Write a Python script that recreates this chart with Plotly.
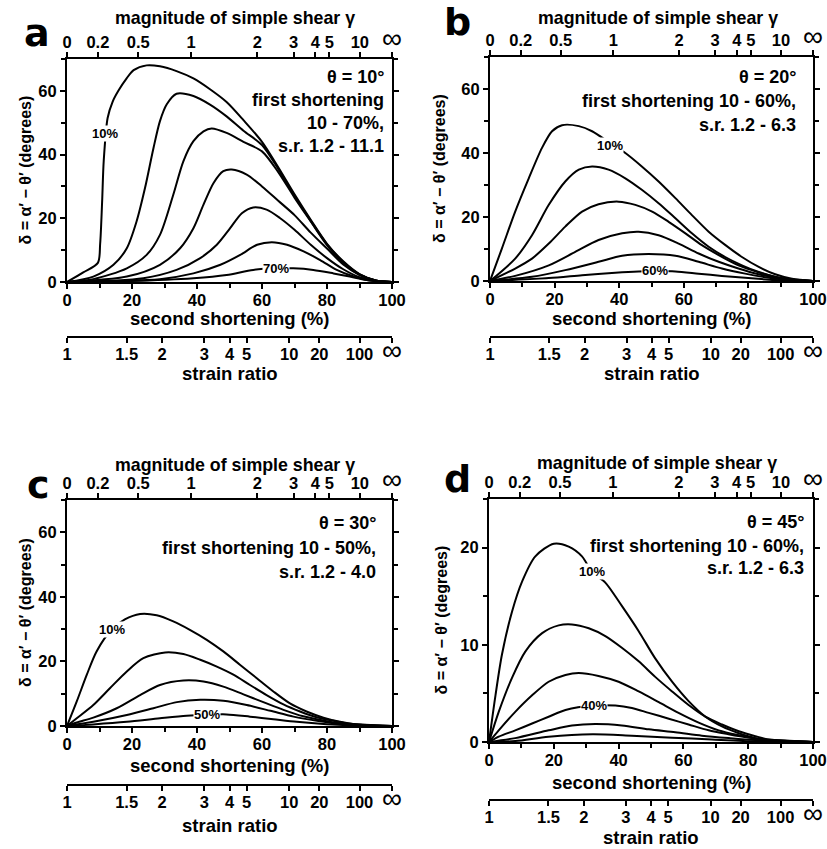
import math
import plotly.graph_objects as go

W, H = 827, 849
FONT = "Liberation Sans, Arial, Helvetica, sans-serif"
INF = math.inf

# ---------------- tick values / labels ----------------
shortening_ticks = [0, 20, 40, 60, 80, 100]
delta_ticks_abc = [0, 20, 40, 60]
delta_ticks_d = [0, 10, 20]
gamma_values = [0, 0.2, 0.5, 1, 2, 3, 4, 5, 10, INF]
gamma_labels = ["0", "0.2", "0.5", "1", "2", "3", "4", "5", "10", "∞"]
ratio_values = [1, 1.5, 2, 3, 4, 5, 10, 20, 100, INF]
ratio_labels = ["1", "1.5", "2", "3", "4", "5", "10", "20", "100", "∞"]

# ---------------- panel a : theta = 10 deg ----------------
a10_s = [0, 5, 9.5, 10.2, 10.8, 11.3, 12.5, 14, 15.8, 18.4, 20.5, 24.5, 28.6, 33.7, 38.9, 44, 49.1, 54.3, 60, 65, 70, 75, 80, 85, 90, 95, 100]
a10_d = [0, 3, 6, 12, 25, 38, 51.5, 56.5, 60, 64, 66.5, 68, 67.7, 66.2, 63.9, 60.5, 56.5, 50.8, 44, 36, 27.5, 19.5, 12, 6.5, 2.5, 0.5, 0]
a20_s = [0, 8.1, 14.3, 18.4, 21.4, 24, 26.6, 28.6, 30.7, 33.7, 38.9, 44, 49.1, 54.3, 60, 65, 70, 75, 80, 85, 90, 95, 100]
a20_d = [0, 1.7, 5.4, 10.6, 19, 29.5, 42, 50.5, 55.8, 59.1, 58.4, 55.7, 52, 47.5, 43, 35.5, 27, 19.2, 11.8, 6.3, 2.4, 0.5, 0]
a30_s = [0, 8.1, 18.4, 24.5, 28.6, 32.7, 35.8, 38.9, 42, 44.5, 49.1, 54.3, 60, 65, 70, 75, 80, 85, 90, 95, 100]
a30_d = [0, 0.9, 4.3, 8.5, 14.8, 27.4, 37.9, 44.2, 47.3, 48.2, 46.8, 44, 41, 34.5, 26.5, 19, 11.6, 6.1, 2.3, 0.5, 0]
a40_s = [0, 18.4, 28.6, 34.8, 38.9, 42, 45.1, 48.1, 50.7, 55.3, 60, 65, 70, 75, 80, 85, 90, 95, 100]
a40_d = [0, 1.7, 5.4, 10.6, 16.9, 24.3, 31.1, 34.8, 35.3, 33.7, 30, 25.5, 21, 15.5, 10.5, 5.5, 2.2, 0.4, 0]
a50_s = [0, 23.5, 33.7, 41, 46.1, 50.2, 53.8, 57.3, 61.4, 65.5, 70, 75, 80, 85, 90, 95, 100]
a50_d = [0, 1.2, 3.8, 7.5, 11.7, 16.9, 21.6, 23.4, 22.7, 20.1, 16.4, 11.7, 7.5, 4, 1.5, 0.3, 0]
a60_s = [0, 28.6, 38.9, 47.2, 53.3, 58.5, 63, 67.7, 72.8, 77.9, 83, 88, 93, 100]
a60_d = [0, 0.9, 2.7, 5.4, 8.5, 11.7, 12.5, 11.7, 9.6, 6.9, 3.8, 1.8, 0.5, 0]
a70_s = [0, 18.4, 38.9, 49.1, 57.3, 64.3, 69.6, 75.8, 82, 87, 92.2, 100]
a70_d = [0, 0.3, 1.2, 2.2, 3.8, 4.3, 4.3, 3.8, 2.7, 1.7, 0.6, 0]

# ---------------- panel b : theta = 20 deg ----------------
b10_s = [0, 3.7, 7.8, 12, 16.1, 19.2, 22.3, 27.5, 31.6, 37.3, 41.9, 47, 52.2, 57.4, 62.5, 67.7, 72.9, 78, 83.2, 88.3, 93.5, 100]
b10_d = [0, 10.2, 21.7, 32.1, 41.6, 46.8, 48.7, 48.4, 46.8, 43, 40, 35.8, 31.1, 25.9, 20.6, 15.4, 11.2, 7.5, 4.4, 2.1, 0.7, 0]
b20_s = [0, 7.8, 13, 18.2, 23.3, 27.5, 31.6, 36.7, 41.9, 47, 52.2, 57.4, 62.5, 67.7, 72.8, 78, 83.2, 88.3, 93.5, 100]
b20_d = [0, 7, 14.3, 23.8, 31.1, 34.8, 35.8, 34.8, 32.1, 28.5, 24.3, 19.6, 14.9, 10.7, 7.5, 4.9, 2.8, 1.3, 0.4, 0]
b30_s = [0, 7.8, 13, 18.2, 23.3, 28.5, 33.6, 39.8, 45, 50.2, 55.3, 60.5, 65.6, 70.8, 75.9, 81.1, 86.3, 91.4, 100]
b30_d = [0, 3.9, 7, 11.7, 17, 21.7, 24, 24.8, 23.8, 21.7, 18.5, 14.9, 11.2, 8.1, 5.4, 3.4, 1.8, 0.7, 0]
b40_s = [0, 7.8, 18.2, 26.4, 33.6, 40.9, 46, 52.2, 58.4, 64.6, 70.8, 76.9, 83.2, 89.4, 100]
b40_d = [0, 1.6, 4.9, 9.1, 12.8, 14.9, 15.4, 14.3, 11.7, 8.6, 6, 3.9, 2.1, 0.9, 0]
b50_s = [0, 13, 23.3, 33.6, 40.9, 49.1, 57.4, 64.6, 71.8, 79, 86.3, 92.5, 100]
b50_d = [0, 1.3, 3.4, 6, 7.9, 8.4, 7.9, 6, 3.9, 2.3, 1, 0.3, 0]
b60_s = [0, 18.2, 28.5, 38.8, 46, 51.2, 57.4, 64.6, 71.8, 80, 88.3, 100]
b60_d = [0, 0.9, 1.8, 2.6, 3, 3.1, 3, 2.3, 1.6, 0.9, 0.3, 0]

# ---------------- panel c : theta = 30 deg ----------------
c10_s = [0, 3, 6.1, 9.1, 13.7, 17.8, 22.5, 27.6, 32.7, 37.8, 43, 48.1, 53.2, 58.4, 63.5, 68.6, 73.7, 78.9, 84, 89.1, 95.3, 100]
c10_d = [0, 7.6, 15.9, 23.1, 29.8, 33, 34.7, 34.3, 32.4, 29.8, 26.7, 23.1, 19, 14.8, 10.7, 7, 4.5, 2.6, 1.3, 0.5, 0.1, 0]
c20_s = [0, 3, 8.1, 13.2, 18.4, 23.5, 30.2, 35.8, 41, 46.1, 51.2, 56.3, 61.4, 66.6, 71.7, 76.8, 82, 87.1, 100]
c20_d = [0, 2.4, 6.5, 11.7, 16.9, 21, 22.8, 22.3, 20.5, 18.4, 15.9, 12.7, 9.6, 6.7, 4.5, 2.7, 1.6, 0.7, 0]
c30_s = [0, 3, 8.1, 15.3, 22.5, 28.6, 35.8, 42, 48.1, 54.3, 60.4, 66.6, 72.7, 78.9, 85, 100]
c30_d = [0, 1.1, 2.6, 5.5, 9.6, 12.7, 14.1, 13.8, 12.2, 9.8, 7.4, 5, 3, 1.7, 0.7, 0]
c40_s = [0, 8.1, 18.4, 26.6, 33.8, 41, 48.1, 55.3, 62.6, 69.7, 76.9, 84.1, 100]
c40_d = [0, 1.3, 3.4, 5.5, 7.4, 8.1, 7.8, 6.5, 4.7, 2.9, 1.6, 0.6, 0]
c50_s = [0, 8.1, 18.4, 28.6, 36.8, 43, 49.1, 56.3, 63.5, 70.7, 78, 85, 100]
c50_d = [0, 0.5, 1.3, 2.4, 3.2, 3.5, 3.6, 2.9, 2.1, 1.3, 0.7, 0.3, 0]

# ---------------- panel d : theta = 45 deg ----------------
d10_s = [0, 2, 4, 7.1, 10.2, 14.3, 20, 24.6, 28.7, 31.8, 35.9, 41, 46.2, 51.3, 56.5, 61.6, 66.8, 71.9, 77.1, 82.2, 88.4, 100]
d10_d = [0, 4.8, 9, 13.4, 16.5, 19.1, 20.4, 20.1, 19.1, 17.5, 16.4, 14, 11.4, 8.6, 6.2, 4.2, 2.6, 1.6, 0.9, 0.4, 0.2, 0]
d20_s = [0, 3, 7.1, 11.2, 16.4, 21.5, 25.6, 30.8, 35.9, 41, 46.2, 51.3, 56.5, 61.6, 66.8, 71.9, 77.1, 82.2, 87.3, 100]
d20_d = [0, 3.1, 6.6, 9.3, 11.2, 12, 12.1, 11.7, 10.9, 9.7, 8.3, 6.7, 5.2, 3.8, 2.6, 1.8, 1.1, 0.6, 0.2, 0]
d30_s = [0, 3, 8.1, 13.3, 18.4, 23.6, 27.7, 33.8, 40, 46.2, 52.4, 58.5, 64.7, 70.9, 77.1, 83.2, 100]
d30_d = [0, 1.2, 3.1, 4.8, 6.2, 6.9, 7.1, 6.8, 6.2, 5.2, 4.1, 3, 2, 1.2, 0.7, 0.3, 0]
d40_s = [0, 3, 8.1, 13.3, 18.4, 23.6, 32.3, 39, 44.1, 49.3, 55.5, 61.6, 67.8, 73.9, 80.1, 86.3, 100]
d40_d = [0, 0.55, 1.2, 1.9, 2.6, 3.3, 3.75, 3.75, 3.5, 3, 2.4, 1.8, 1.2, 0.8, 0.45, 0.2, 0]
d50_s = [0, 8.1, 18.4, 25.6, 32.8, 41, 49.3, 57.5, 65.7, 74, 82.2, 100]
d50_d = [0, 0.4, 1.2, 1.7, 1.85, 1.7, 1.3, 1, 0.65, 0.4, 0.2, 0]
d60_s = [0, 8.1, 18.4, 32, 44.1, 56.5, 68.8, 81.2, 100]
d60_d = [0, 0.1, 0.55, 0.8, 0.65, 0.45, 0.25, 0.07, 0]


def shortening_from_gamma(g):
    if g == INF:
        return 100.0
    lam = (g + math.sqrt(g * g + 4)) / 2
    return 100 * (1 - 1 / lam)


def shortening_from_ratio(r):
    if r == INF:
        return 100.0
    return 100 * (1 - 1 / math.sqrt(r))


def tick_text(lbl):
    if lbl == "∞":
        return '<span style="font-size:28px;font-weight:normal">∞</span>'
    return lbl


panels = [
    dict(letter="a", box=(67, 392, 59, 282), yrange=70, yticks=delta_ticks_abc, ydt=10,
         curves=[(a10_s, a10_d), (a20_s, a20_d), (a30_s, a30_d), (a40_s, a40_d), (a50_s, a50_d), (a60_s, a60_d), (a70_s, a70_d)],
         labels=[("10%", 11.8, 46.5), ("70%", 64.3, 4.3)],
         info=["θ = 10°", "first shortening", "10 - 70%,", "s.r. 1.2 - 11.1"], info_y=[77, 100, 123, 146], info_x=386,
         top_title_y=18, bot_title_y=318, ratio_line_y=337, ratio_title_y=373, ytitle_x=25,
         letter_xy=(37, 33)),
    dict(letter="b", box=(490, 813, 57, 281), yrange=70, yticks=delta_ticks_abc, ydt=10,
         curves=[(b10_s, b10_d), (b20_s, b20_d), (b30_s, b30_d), (b40_s, b40_d), (b50_s, b50_d), (b60_s, b60_d)],
         labels=[("10%", 37.3, 42.5), ("60%", 51.2, 3.2)],
         info=["θ = 20°", "first shortening 10 - 60%,", "s.r. 1.2 - 6.3"], info_y=[77, 101, 125], info_x=798,
         top_title_y=18, bot_title_y=318, ratio_line_y=337, ratio_title_y=373, ytitle_x=440,
         letter_xy=(458, 22)),
    dict(letter="c", box=(67, 392, 500, 726), yrange=70, yticks=delta_ticks_abc, ydt=10,
         curves=[(c10_s, c10_d), (c20_s, c20_d), (c30_s, c30_d), (c40_s, c40_d), (c50_s, c50_d)],
         labels=[("10%", 13.7, 29.8), ("50%", 43, 3.5)],
         info=["θ = 30°", "first shortening 10 - 50%,", "s.r. 1.2 - 4.0"], info_y=[523, 548, 572], info_x=378,
         top_title_y=465, bot_title_y=765, ratio_line_y=785, ratio_title_y=825, ytitle_x=25,
         letter_xy=(38, 485)),
    dict(letter="d", box=(489, 813, 499, 742), yrange=25, yticks=delta_ticks_d, ydt=5,
         curves=[(d10_s, d10_d), (d20_s, d20_d), (d30_s, d30_d), (d40_s, d40_d), (d50_s, d50_d), (d60_s, d60_d)],
         labels=[("10%", 31.8, 17.5), ("40%", 32.3, 3.75)],
         info=["θ = 45°", "first shortening 10 - 60%,", "s.r. 1.2 - 6.3"], info_y=[522, 546, 568], info_x=806,
         top_title_y=463, bot_title_y=782, ratio_line_y=800, ratio_title_y=837, ytitle_x=441,
         letter_xy=(457, 479)),
]

fig = go.Figure()
layout = {}
annotations = []

tick_font = dict(family=FONT, size=16.5, color="black", weight="bold")
top_title_font = dict(family=FONT, size=17.8, color="black", weight="bold")
bot_title_font = dict(family=FONT, size=18.5, color="black", weight="bold")
info_font = dict(family=FONT, size=18, color="black", weight="bold")

gamma_pos = [shortening_from_gamma(g) for g in gamma_values]
ratio_pos = [shortening_from_ratio(r) for r in ratio_values]


def paper_text(text, px, py, font, xanchor="center", textangle=0):
    return dict(text=text, x=px / W, y=1 - py / H, xref="paper", yref="paper",
                xanchor=xanchor, yanchor="middle", showarrow=False, textangle=textangle, font=font)


for i, p in enumerate(panels):
    x0, x1, yt, yb = p["box"]
    nx_main = 3 * i + 1
    nx_top = 3 * i + 2
    nx_ratio = 3 * i + 3
    ny = i + 1
    xm = "x" if nx_main == 1 else f"x{nx_main}"
    yn = "y" if ny == 1 else f"y{ny}"
    xm_key = "xaxis" if nx_main == 1 else f"xaxis{nx_main}"
    yn_key = "yaxis" if ny == 1 else f"yaxis{ny}"

    common_line = dict(showline=True, linecolor="black", linewidth=2, showgrid=False, zeroline=False,
                       tickcolor="black", tickwidth=1.5, tickfont=tick_font, automargin=False)

    layout[xm_key] = dict(domain=[x0 / W, x1 / W], anchor=yn, range=[0, 100],
                          tickmode="array", tickvals=shortening_ticks,
                          ticks="outside", ticklen=5, mirror=True, ticklabelstandoff=-3,
                          minor=dict(ticks="outside", dtick=10, ticklen=4, tickcolor="black", tickwidth=1.5),
                          **common_line)
    layout[yn_key] = dict(domain=[1 - yb / H, 1 - yt / H], anchor=xm, range=[0, p["yrange"]],
                          tickmode="array", tickvals=p["yticks"],
                          ticks="outside", ticklen=5, mirror="ticks",
                          minor=dict(ticks="outside", dtick=p["ydt"], ticklen=4, tickcolor="black", tickwidth=1.5),
                          **common_line)
    layout[f"xaxis{nx_top}"] = dict(overlaying=xm, anchor=yn, side="top", range=[0, 100],
                                    tickmode="array", tickvals=gamma_pos,
                                    ticktext=[tick_text(t) for t in gamma_labels],
                                    ticks="outside", ticklen=5, ticklabelstandoff=-3, **common_line)
    layout[f"xaxis{nx_ratio}"] = dict(overlaying=xm, anchor="free", position=1 - p["ratio_line_y"] / H,
                                      side="bottom", range=[0, 100],
                                      tickmode="array", tickvals=ratio_pos,
                                      ticktext=[tick_text(t) for t in ratio_labels],
                                      ticks="outside", ticklen=5, ticklabelstandoff=-3, **common_line)

    # invisible helper traces so the overlay axes are drawn
    for nx in (nx_top, nx_ratio):
        fig.add_trace(go.Scatter(x=[0], y=[0], xaxis=f"x{nx}", yaxis=yn, mode="markers",
                                 marker=dict(opacity=0), hoverinfo="skip", showlegend=False))

    for s_vals, d_vals in p["curves"]:
        fig.add_trace(go.Scatter(x=s_vals, y=d_vals, xaxis=xm, yaxis=yn, mode="lines",
                                 line=dict(color="black", width=2, shape="spline", smoothing=0.8),
                                 hoverinfo="skip", showlegend=False))

    for txt, xs, yd in p["labels"]:
        annotations.append(dict(text=txt, x=xs, y=yd, xref=xm, yref=yn, showarrow=False,
                                xanchor="center", yanchor="middle",
                                bgcolor="white", borderpad=0,
                                font=dict(family=FONT, size=13, color="black", weight="bold")))

    for txt, yy in zip(p["info"], p["info_y"]):
        annotations.append(paper_text(txt, p["info_x"], yy, info_font, xanchor="right"))

    cx = (x0 + x1) / 2
    annotations.append(paper_text("magnitude of simple shear γ", cx + 6, p["top_title_y"], top_title_font))
    annotations.append(paper_text("second shortening (%)", cx, p["bot_title_y"], bot_title_font))
    annotations.append(paper_text("strain ratio", cx, p["ratio_title_y"], bot_title_font))
    annotations.append(paper_text("δ = α′ − θ′ (degrees)", p["ytitle_x"], (yt + yb) / 2,
                                  dict(family=FONT, size=16, color="black", weight="bold"), textangle=-90))
    lx, ly = p["letter_xy"]
    annotations.append(paper_text(p["letter"], lx, ly,
                                  dict(family="DejaVu Sans", size=38, color="black", weight="bold")))

fig.update_layout(
    width=W, height=H,
    margin=dict(l=0, r=0, t=0, b=0, autoexpand=False),
    paper_bgcolor="white", plot_bgcolor="white",
    font=dict(family=FONT, color="black"),
    showlegend=False,
    annotations=annotations,
    **layout,
)

fig.write_html("out.html",
               config={"displayModeBar": False},
               post_script="document.body.style.margin='0px';document.body.style.overflow='hidden';")
